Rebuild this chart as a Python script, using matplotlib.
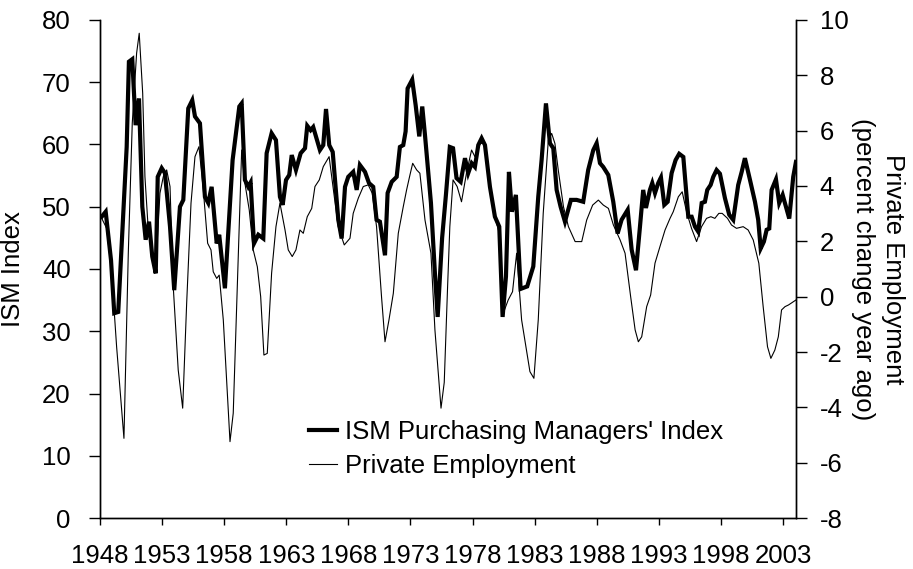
import matplotlib
matplotlib.use("Agg")
import matplotlib.pyplot as plt

plt.rcParams['font.family'] = ['Liberation Sans', 'DejaVu Sans']
plt.rcParams['axes.unicode_minus'] = False

# ISM Purchasing Managers' Index (left axis)
ism_years = [1948.14, 1948.46, 1948.89, 1949.15, 1949.47, 1950.15, 1950.33, 1950.60, 1950.87, 1951.14,
             1951.41, 1951.68, 1951.95, 1952.21, 1952.49, 1952.65, 1952.97, 1953.23, 1953.64, 1953.98,
             1954.44, 1954.71, 1955.11, 1955.43, 1955.65, 1956.05, 1956.45, 1956.72, 1956.99, 1957.40,
             1957.60, 1958.06, 1958.68, 1959.22, 1959.41, 1959.67, 1959.94, 1960.13, 1960.40, 1960.75,
             1961.15, 1961.42, 1961.82, 1962.17, 1962.49, 1962.71, 1962.98, 1963.24, 1963.44, 1963.78,
             1964.16, 1964.51, 1964.69, 1964.96, 1965.17, 1965.71, 1965.98, 1966.20, 1966.46, 1966.74,
             1967.19, 1967.46, 1967.73, 1967.99, 1968.39, 1968.67, 1968.93, 1969.34, 1969.66, 1970.00,
             1970.27, 1970.54, 1970.95, 1971.16, 1971.49, 1971.89, 1972.15, 1972.42, 1972.61, 1972.77,
             1973.14, 1973.42, 1973.71, 1973.95, 1974.17, 1974.65, 1974.97, 1975.19, 1975.55, 1975.86,
             1976.17, 1976.43, 1976.71, 1977.04, 1977.39, 1977.65, 1977.93, 1978.19, 1978.46, 1978.73,
             1979.00, 1979.40, 1979.80, 1980.15, 1980.42, 1980.69, 1980.93, 1981.17, 1981.49, 1981.87,
             1982.40, 1982.89, 1983.29, 1983.56, 1983.91, 1984.23, 1984.50, 1984.77, 1985.09, 1985.44,
             1985.92, 1986.38, 1986.91, 1987.31, 1987.72, 1987.99, 1988.26, 1988.52, 1988.93, 1989.33,
             1989.68, 1990.00, 1990.49, 1990.81, 1991.16, 1991.48, 1991.74, 1991.96, 1992.28, 1992.47,
             1992.69, 1992.95, 1993.17, 1993.44, 1993.71, 1994.03, 1994.35, 1994.64, 1994.97, 1995.37,
             1995.64, 1995.91, 1996.17, 1996.45, 1996.71, 1996.90, 1997.17, 1997.38, 1997.65, 1997.92,
             1998.32, 1998.67, 1998.99, 1999.39, 1999.67, 1999.93, 2000.34, 2000.74, 2001.00, 2001.20,
             2001.46, 2001.68, 2001.89, 2002.08, 2002.43, 2002.69, 2002.97, 2003.15, 2003.50, 2003.82,
             2004.04]
ism_values = [48.4, 49.2, 41.4, 32.9, 33.1, 59.6, 73.3, 73.7, 63.1, 67.4,
              50.0, 44.7, 47.6, 42.0, 39.3, 54.8, 56.2, 55.4, 46.8, 36.6,
              50.0, 51.1, 65.8, 67.1, 64.5, 63.4, 51.6, 50.6, 53.2, 44.1,
              45.5, 36.9, 57.5, 66.1, 66.6, 54.3, 53.2, 53.9, 44.1, 45.5,
              44.9, 58.6, 61.8, 60.7, 51.6, 50.3, 54.3, 55.1, 58.3, 55.9,
              58.6, 59.4, 63.0, 62.3, 62.8, 59.1, 59.9, 65.7, 59.9, 58.8,
              47.9, 44.9, 53.2, 54.8, 55.6, 52.7, 56.7, 55.6, 53.8, 53.2,
              47.9, 47.6, 42.2, 52.2, 54.0, 54.8, 59.6, 59.9, 62.1, 69.0,
              70.4, 66.3, 61.3, 66.1, 61.5, 50.6, 39.3, 32.3, 45.0, 52.0,
              59.6, 59.4, 54.6, 54.0, 57.8, 55.4, 57.0, 56.4, 59.9, 61.0,
              59.9, 53.2, 48.4, 46.8, 32.3, 38.8, 55.6, 49.2, 51.9, 36.8,
              37.2, 40.4, 51.6, 57.5, 66.6, 60.2, 59.4, 52.7, 50.0, 47.6,
              51.1, 51.1, 50.8, 55.9, 59.1, 60.2, 57.0, 56.4, 55.1, 50.8,
              45.7, 47.9, 49.5, 43.1, 39.8, 46.8, 52.7, 49.8, 52.7, 53.8,
              52.2, 53.8, 54.7, 50.3, 50.8, 55.4, 57.5, 58.5, 58.0, 48.4,
              48.4, 46.8, 46.0, 50.6, 50.8, 52.7, 53.5, 54.8, 55.9, 55.3,
              51.4, 48.7, 47.9, 53.5, 55.6, 57.8, 54.3, 50.8, 47.9, 43.3,
              44.4, 46.3, 46.5, 52.7, 54.4, 50.6, 51.9, 50.6, 48.1, 54.8,
              57.2]

# Private employment, percent change year ago (right axis)
emp_years = [1948.14, 1948.54, 1948.94, 1949.34, 1949.93, 1950.28, 1950.60, 1950.95, 1951.16, 1951.44,
             1951.62, 1951.89, 1952.16, 1952.48, 1952.83, 1953.10, 1953.37, 1953.64, 1953.90, 1954.30,
             1954.66, 1954.98, 1955.33, 1955.65, 1955.97, 1956.32, 1956.67, 1956.94, 1957.12, 1957.40,
             1957.60, 1957.93, 1958.47, 1958.73, 1959.14, 1959.41, 1959.67, 1960.02, 1960.34, 1960.67,
             1960.94, 1961.20, 1961.47, 1961.82, 1962.17, 1962.49, 1962.90, 1963.16, 1963.48, 1963.78,
             1964.10, 1964.37, 1964.69, 1965.05, 1965.31, 1965.66, 1965.98, 1966.30, 1966.45, 1966.66,
             1967.18, 1967.67, 1968.13, 1968.39, 1968.80, 1969.20, 1969.60, 1969.92, 1970.27, 1970.67,
             1970.95, 1971.27, 1971.62, 1972.02, 1972.42, 1972.69, 1972.96, 1973.18, 1973.50, 1973.76,
             1974.17, 1974.65, 1974.97, 1975.46, 1975.72, 1975.99, 1976.17, 1976.43, 1976.76, 1977.11,
             1977.51, 1977.92, 1978.19, 1978.60, 1979.00, 1979.40, 1979.80, 1980.15, 1980.47, 1980.87,
             1981.22, 1981.55, 1981.95, 1982.62, 1982.94, 1983.29, 1983.69, 1984.10, 1984.37, 1984.63,
             1984.90, 1985.32, 1985.72, 1986.26, 1986.79, 1987.19, 1987.67, 1988.13, 1988.53, 1988.94,
             1989.34, 1989.88, 1990.28, 1990.73, 1991.09, 1991.35, 1991.62, 1992.02, 1992.34, 1992.69,
             1993.09, 1993.50, 1993.90, 1994.16, 1994.57, 1994.88, 1995.23, 1995.63, 1996.04, 1996.44,
             1996.84, 1997.19, 1997.51, 1997.83, 1998.10, 1998.53, 1998.85, 1999.25, 1999.79, 2000.19,
             2000.60, 2001.05, 2001.40, 2001.75, 2002.02, 2002.34, 2002.62, 2002.88, 2003.16, 2003.44,
             2004.04]
emp_values = [2.83, 2.47, 0.85, -1.81, -5.12, 1.57, 6.27, 8.8, 9.52, 7.35,
              4.34, 2.41, 1.57, 0.96, 3.74, 4.34, 4.58, 3.98, 0.36, -2.65,
              -4.03, -0.24, 3.38, 5.06, 5.42, 3.86, 1.93, 1.69, 0.9, 0.66,
              0.78, -0.84, -5.24, -4.21, 1.57, 5.30, 4.10, 3.13, 1.69, 1.08,
              0.0, -2.11, -2.05, 0.85, 2.53, 3.38, 2.41, 1.69, 1.45, 1.69,
              2.41, 2.29, 2.89, 3.19, 3.98, 4.22, 4.70, 4.94, 5.06, 4.34,
              2.53, 1.87, 2.11, 3.01, 3.56, 3.98, 4.04, 3.74, 2.53, 0.0,
              -1.63, -0.84, 0.12, 2.29, 3.25, 3.86, 4.40, 4.82, 4.58, 4.46,
              2.77, 1.57, -1.20, -4.03, -3.10, 0.36, 2.53, 4.22, 3.98, 3.43,
              4.46, 5.30, 5.06, 5.54, 5.54, 3.98, 2.89, 2.29, -0.60, -0.12,
              0.18, 1.57, -0.84, -2.71, -2.95, -0.84, 3.01, 5.66, 5.9, 5.54,
              4.58, 3.25, 2.53, 1.99, 1.99, 2.77, 3.31, 3.49, 3.31, 3.19,
              2.59, 2.05, 1.57, 0.0, -1.20, -1.63, -1.45, -0.36, 0.06, 1.21,
              1.81, 2.41, 2.83, 3.07, 3.61, 3.79, 3.07, 2.47, 1.99, 2.53,
              2.83, 2.89, 2.83, 3.01, 3.01, 2.83, 2.59, 2.47, 2.53, 2.41,
              2.05, 1.21, -0.36, -1.81, -2.23, -1.93, -1.45, -0.48, -0.36, -0.30,
              -0.12]

year_ticks = list(range(1948, 2004, 5))

fs = 18.5

fig = plt.figure(figsize=(9.13, 5.69), dpi=100)
ax = fig.add_axes([0.1095, 0.0896, 0.7623, 0.8753])
ax2 = ax.twinx()

l1, = ax.plot(ism_years, ism_values, color='black', lw=3.0, solid_joinstyle='miter',
              label="ISM Purchasing Managers' Index", zorder=3)
l2, = ax2.plot(emp_years, emp_values, color='black', lw=0.8,
               label='Private Employment', zorder=2)

ax.set_xlim(1948, 2004.04)
ax.set_ylim(0, 80)
ax2.set_ylim(-8, 10)
ax.set_xticks(year_ticks)
ax.set_yticks(range(0, 81, 10))
ax2.set_yticks(range(-8, 11, 2))

for a in (ax, ax2):
    a.spines['top'].set_visible(False)
    for s in a.spines.values():
        s.set_linewidth(1.0)
ax.tick_params(axis='y', direction='out', length=8, width=1, pad=13, labelsize=fs)
ax.tick_params(axis='x', direction='out', length=5, width=1, pad=14, labelsize=fs)
ax2.tick_params(axis='y', direction='out', length=8, width=1, pad=9, labelsize=fs)

ax.set_ylabel('ISM Index', fontsize=fs)
ax.yaxis.set_label_coords(-0.108, 0.5)
ax2.set_ylabel('Private Employment\n(percent change year ago)', fontsize=fs,
               rotation=270, va='center', ha='center', linespacing=1.35)
ax2.yaxis.set_label_coords(1.118, 0.5)

ax.set_zorder(ax2.get_zorder() + 1)
ax.patch.set_visible(False)

ax.legend(handles=[l1, l2], loc='upper left', bbox_to_anchor=(0.30, 0.197),
          frameon=False, fontsize=fs, handlelength=1.1, handletextpad=0.3,
          labelspacing=0.38, borderpad=0, borderaxespad=0)

fig.savefig('out.png', dpi=100)
